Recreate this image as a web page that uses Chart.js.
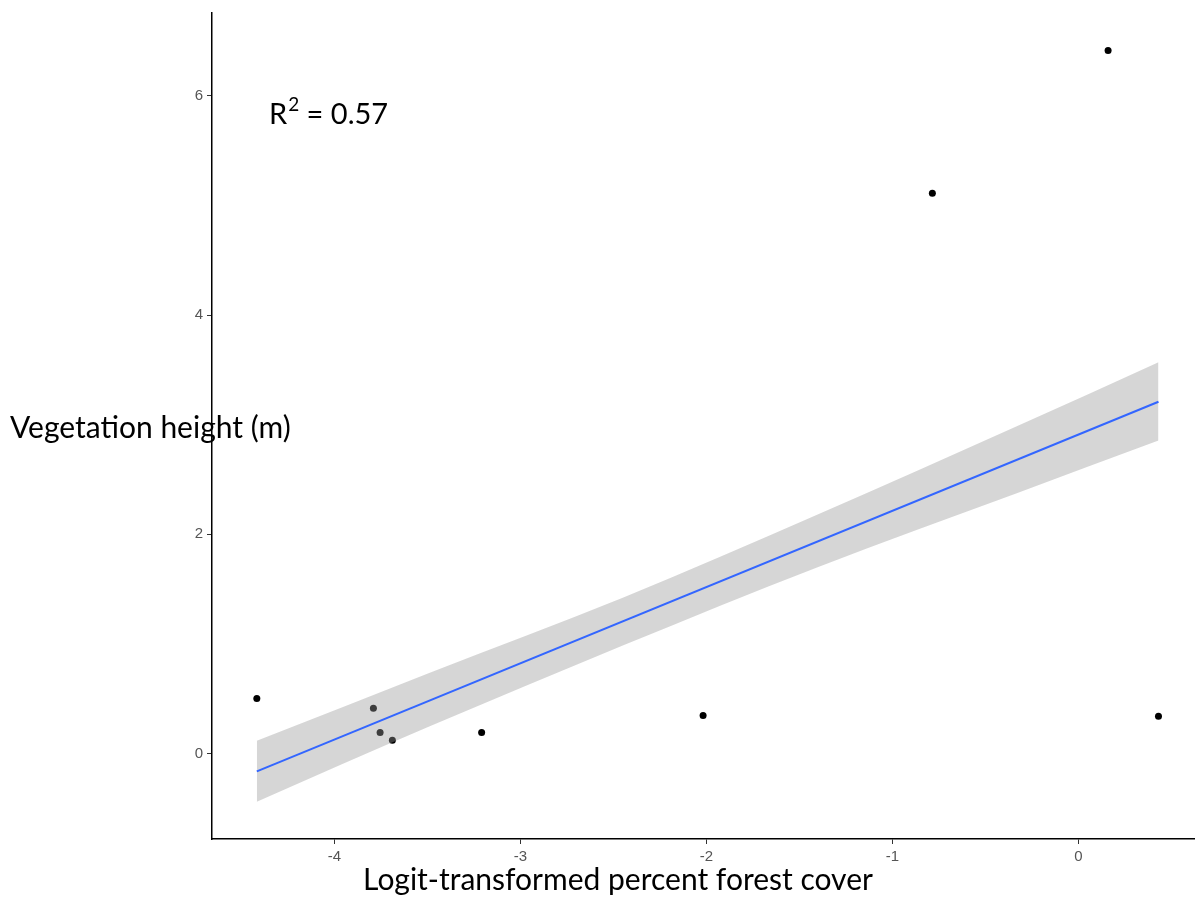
<!DOCTYPE html>
<html>
<head>
<meta charset="utf-8">
<script src="https://cdn.jsdelivr.net/npm/chart.js@4"></script>
<style>
  html, body { margin: 0; padding: 0; background: #fff; }
</style>
</head>
<body>
<canvas id="vegChart" width="1198" height="920"></canvas>
<script>
// observed sites
const forestCover = [-4.418, -3.791, -3.755, -3.689, -3.209, -2.018, -0.785, 0.160, 0.431];
const vegHeight   = [0.501, 0.413, 0.191, 0.121, 0.191, 0.346, 5.111, 6.415, 0.340];

// linear fit + confidence band
const fitX = [-4.418, 0.431];
const fitY = [-0.164, 3.209];
const bandX    = [-4.418, -3.491, -2.45, -1.402, -0.331, 0.431];
const bandLow  = [-0.440, 0.245, 0.985, 1.700, 2.375, 2.855];
const bandHigh = [0.115, 0.735, 1.420, 2.180, 2.985, 3.570];

const xTicks = [-4, -3, -2, -1, 0];
const yTicks = [0, 2, 4, 6];

const toPts = (xs, ys) => xs.map((x, i) => ({ x: x, y: ys[i] }));

const textLayer = {
  id: 'textLayer',
  afterDraw(chart) {
    const ctx = chart.ctx;
    ctx.save();
    ctx.fillStyle = '#000';
    ctx.textBaseline = 'alphabetic';
    ctx.font = '30px Lato';
    ctx.textAlign = 'left';
    ctx.fillText('Vegetation height (m)', 10, 438);
    ctx.textAlign = 'center';
    ctx.fillText('Logit-transformed percent forest cover', 618, 890);

    ctx.textAlign = 'left';
    let x = 269;
    ctx.font = '29px Lato';
    ctx.fillText('R', x, 124);
    x += ctx.measureText('R').width + 1;
    ctx.font = '19px Lato';
    ctx.fillText('2', x, 111);
    x += ctx.measureText('2').width;
    ctx.font = '29px Lato';
    ctx.fillText(' = 0.57', x, 124);
    ctx.restore();
  }
};

const tickFont = { family: '"Liberation Sans", Arial, sans-serif', size: 15 };

new Chart(document.getElementById('vegChart'), {
  type: 'scatter',
  data: {
    datasets: [
      {
        label: 'sites',
        data: toPts(forestCover, vegHeight),
        backgroundColor: '#000',
        borderWidth: 0,
        pointRadius: 3.5,
        order: 3
      },
      {
        label: 'upper',
        type: 'line',
        data: toPts(bandX, bandHigh),
        borderWidth: 0,
        pointRadius: 0,
        cubicInterpolationMode: 'monotone',
        fill: '+1',
        backgroundColor: 'rgba(153,153,153,0.4)',
        order: 2
      },
      {
        label: 'lower',
        type: 'line',
        data: toPts(bandX, bandLow),
        borderWidth: 0,
        pointRadius: 0,
        cubicInterpolationMode: 'monotone',
        fill: false,
        order: 2
      },
      {
        label: 'fit',
        type: 'line',
        data: toPts(fitX, fitY),
        borderColor: '#3366FF',
        borderWidth: 2,
        pointRadius: 0,
        fill: false,
        order: 1
      }
    ]
  },
  options: {
    responsive: false,
    animation: false,
    devicePixelRatio: 1,
    layout: { padding: { top: 12, right: 0, left: 0, bottom: 0 } },
    plugins: {
      legend: { display: false },
      tooltip: { enabled: false }
    },
    scales: {
      x: {
        type: 'linear',
        min: -4.659,
        max: 0.622,
        afterBuildTicks: s => { s.ticks = xTicks.map(v => ({ value: v })); },
        afterFit: s => { s.height = 81; },
        border: { display: true, color: '#000', width: 1.5 },
        grid: { display: true, drawOnChartArea: false, drawTicks: true, tickLength: 5, color: '#333' },
        ticks: { color: '#555', font: tickFont, padding: 4, maxRotation: 0 }
      },
      y: {
        type: 'linear',
        min: -0.781,
        max: 6.757,
        afterBuildTicks: s => { s.ticks = yTicks.map(v => ({ value: v })); },
        afterFit: s => { s.width = 212; },
        border: { display: true, color: '#000', width: 1.5 },
        grid: { display: true, drawOnChartArea: false, drawTicks: true, tickLength: 5, color: '#333' },
        ticks: { color: '#555', font: tickFont, padding: 4 }
      }
    }
  },
  plugins: [textLayer]
});
</script>
</body>
</html>
